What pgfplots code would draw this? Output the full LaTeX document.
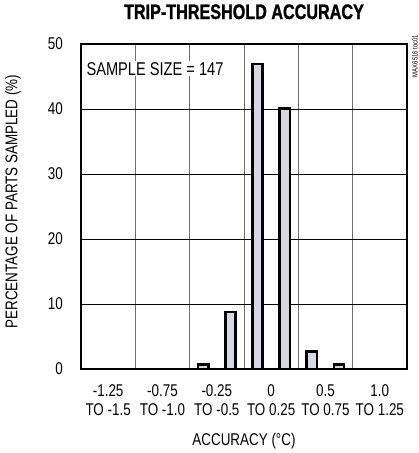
\documentclass[border=0pt]{standalone}
\usepackage{fontspec}
\setmainfont{Liberation Sans}[FakeStretch=0.79]
\newfontfamily\titlefont{Liberation Sans Bold}[FakeStretch=0.77, FakeBold=1.2]
\usepackage{pgfplots}
\pgfplotsset{compat=1.18}
\definecolor{barfill}{RGB}{213,216,224}
\definecolor{vgrid}{RGB}{110,110,110}

\begin{document}
\begin{tikzpicture}
\begin{axis}[
    scale only axis,
    width=326pt, height=325pt,
    xmin=0, xmax=6, ymin=0, ymax=50,
    xtick={0.5,1.5,2.5,3.5,4.5,5.5},
    xticklabels={{-1.25\\TO -1.5},{-0.75\\TO -1.0},{-0.25\\TO -0.5},{0\\TO 0.25},{0.5\\TO 0.75},{1.0\\TO 1.25}},
    minor xtick={1,2,3,4,5},
    ytick={0,10,20,30,40,50},
    major tick length=0pt, minor tick length=0pt,
    ymajorgrids, xminorgrids,
    major grid style={black, line width=0.8pt},
    minor grid style={vgrid, line width=0.8pt},
    axis line style={line width=2.6pt},
    /pgf/number format/assume math mode=true,
    tick label style={font=\fontsize{17}{19}\selectfont},
    xticklabel style={align=center, anchor=base, inner sep=0pt, yshift=-46pt},
    yticklabel style={anchor=east, inner sep=0pt, xshift=-18pt},
    title={\titlefont TRIP-THRESHOLD ACCURACY},
    title style={font=\fontsize{21}{24}\selectfont, anchor=base, at={(rel axis cs:0.5,1)}, yshift=19pt},
    xlabel={ACCURACY (°C)},
    xlabel style={font=\fontsize{17}{19}\selectfont, anchor=base, at={(rel axis cs:0.5,0)}, yshift=-76pt},
    ylabel={PERCENTAGE OF PARTS SAMPLED (\%)},
    ylabel style={font=\fontsize{17}{19}\selectfont, anchor=center, at={(rel axis cs:-0.2086,0.515)}},
]
\addplot[ybar, bar width=0.19, fill=barfill, draw=black, line width=2.5pt] coordinates {
    (2.25,0.7) (2.75,8.8) (3.25,46.9) (3.75,40.1) (4.25,2.7) (4.75,0.7)
};
\node[anchor=base, fill=white, inner sep=1pt, font=\fontsize{18.5}{21}\selectfont]
    at (rel axis cs:0.227,0.9046) {SAMPLE SIZE = 147};
\end{axis}
\node[rotate=90, font=\fontsize{7.5}{8}\selectfont, inner sep=0pt] at (334pt,313pt) {MAX6516 toc01};
\useasboundingbox (-81pt,-84pt) rectangle (338pt,369pt);
\end{tikzpicture}
\end{document}
